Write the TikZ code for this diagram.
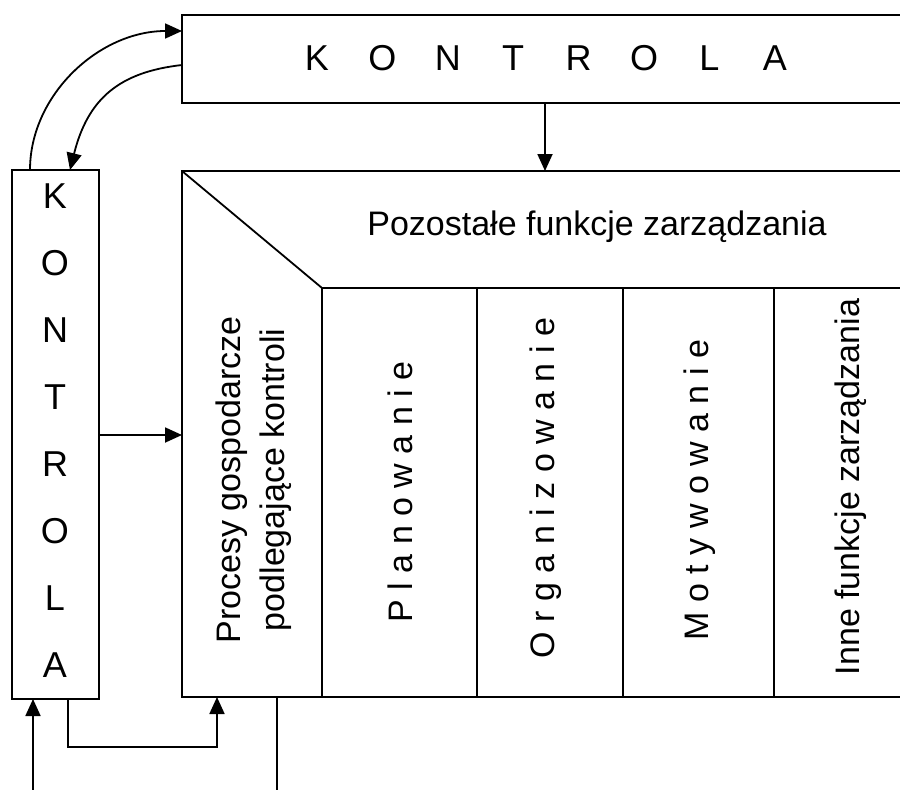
\documentclass[tikz,border=0pt]{standalone}
\usepackage{fontspec}
\setmainfont{Liberation Sans}
\usetikzlibrary{arrows.meta,calc}
\begin{document}
\begin{tikzpicture}[x=1pt,y=-1pt,
  box/.style={draw,line width=2pt,inner sep=0pt,outer sep=0pt,anchor=north west},
  conn/.style={line width=1.8pt,-{Triangle[length=17pt,width=15pt]}},
  plain/.style={line width=1.8pt},
  rule/.style={line width=1.8pt},
  lbl/.style={font=\fontsize{34}{44}\selectfont,inner sep=0pt},
  big/.style={font=\fontsize{36}{40}\selectfont,inner sep=0pt,anchor=base},
  vlbl/.style={lbl,rotate=90,align=center}]

\clip (0,0) rectangle (900,790);

% boxes
\node[box,minimum width=760pt,minimum height=88pt] (topbox) at (182,15) {};
\node[box,minimum width=87pt,minimum height=529pt] (leftbox) at (12,170) {};
\node[box,minimum width=760pt,minimum height=526pt] (mainbox) at (182,171) {};

% inner structure of the main box
\coordinate (corner) at (322,288);
\draw[rule] (mainbox.north west) -- (corner);
\draw[rule] (corner) -- (mainbox.east |- corner);
\foreach \cx in {322,477,623,774}
  \draw[rule] (\cx,288) -- (\cx,697);

% spaced title in the top box
\foreach \ch [count=\i from 0] in {K,O,N,T,R,O,L,A}
  \node[big] (t\i) at ({317+\i*65.4},70) {\ch};

% vertical title in the left box
\foreach \ch [count=\i from 0] in {K,O,N,T,R,O,L,A}
  \node[big] (v\i) at (55,{208+\i*67.1}) {\ch};

% main box labels
\node[lbl,anchor=base] (rest) at (597,235) {Pozostałe funkcje zarządzania};
\node[vlbl] (proc) at (254,480) {Procesy gospodarcze\\podlegające kontroli};
\node[vlbl] (plan) at (400,492) {P l a n o w a n i e};
\node[vlbl] (org)  at (546,488) {O r g a n i z o w a n i e};
\node[vlbl] (mot)  at (700,490) {M o t y w o w a n i e};
\node[vlbl] (inne) at (851,487) {Inne funkcje zarządzania};

% curved feedback loop between the two control boxes
\draw[conn] ([xshift=18pt]leftbox.north west)
  .. controls +(0,-75) and +(-83,0) .. ([yshift=-16pt]topbox.north west);
\draw[conn] ([yshift=-50pt]topbox.north west)
  .. controls +(-62,7) and +(18,-72) .. ([xshift=58pt]leftbox.north west);

% straight connectors
\draw[conn] (topbox.south -| 545,0) -- (mainbox.north -| 545,0);
\draw[conn] (leftbox.east |- 0,435) -- (mainbox.west |- 0,435);

% connectors below the boxes
\coordinate (inlet) at (33,795);
\coordinate (outlet) at (277,795);
\draw[conn] (inlet) -- (inlet |- leftbox.south);
\draw[conn] ([xshift=56pt]leftbox.south west) -- ++(0,48)
  -| ([xshift=35pt]mainbox.south west);
\draw[plain] ([xshift=95pt]mainbox.south west) -- (outlet);
\end{tikzpicture}
\end{document}
